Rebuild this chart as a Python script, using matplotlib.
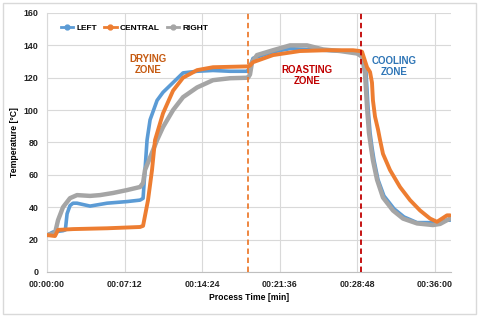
import matplotlib.pyplot as plt
from matplotlib.lines import Line2D
from matplotlib.ticker import FuncFormatter
from matplotlib.patches import Rectangle

plt.rcParams['font.family'] = ['Liberation Sans', 'DejaVu Sans']

# time in minutes, temperature in degC
left_t = [0, 0.56, 1.48, 1.7, 1.86, 2.13, 2.41, 2.78, 3.99, 5.57, 7.42, 8.63, 8.91, 9.09, 9.28,
          9.56, 10.21, 10.76, 11.69, 12.62, 13.92, 15.4, 16.98, 18.56, 18.65, 18.83, 19.11,
          20.97, 22.55, 25.61, 28.76, 29.23, 29.6, 29.78, 29.97, 30.15, 30.34, 30.71, 31.26,
          32.2, 33.12, 34.33, 35.81, 36.47, 37.11, 37.39]
left_T = [22.8, 24.7, 25.5, 26, 36, 41, 42.5, 42.5, 40.7, 42.5, 43.5, 44.4, 45.5, 63, 81.5,
          94, 106, 111, 117, 123, 124, 124.5, 124, 124, 124.5, 127, 132,
          136, 138, 137, 136, 134, 123, 102, 86, 77, 69, 57, 47,
          39, 34, 30.5, 30.5, 30.8, 32, 32]

central_t = [0, 0.74, 1.02, 2.41, 5.57, 8.63, 8.91, 9.37, 9.74, 10.02, 10.76, 11.69, 12.62,
             13.92, 15.4, 18.56, 18.65, 18.83, 19.11, 20.97, 23.47, 25.98, 28.39, 29.04, 29.23,
             29.69, 29.97, 30.15, 30.24, 30.43, 30.71, 30.9, 31.17, 31.82, 32.75, 33.68,
             34.61, 35.54, 36.18, 36.65, 37.11, 37.39]
central_T = [22.8, 22.2, 26, 26.5, 27, 27.8, 28.5, 44.4, 63, 81.5, 98, 112, 120,
             124.7, 126.5, 127, 127, 127.5, 129.6, 134, 136.5, 137, 137, 136.5, 136,
             126.5, 123.5, 117, 106, 96, 88, 81.5, 73, 63, 52.5, 44.4,
             38, 33, 31, 33, 35, 35]

right_t = [0, 0.74, 1.02, 1.48, 2.13, 2.78, 3.99, 4.92, 6.12, 7.42, 8.63, 8.91, 9.09, 10.21,
           10.76, 11.69, 12.62, 13.92, 15.4, 16.98, 18.56, 18.65, 18.83, 19.02, 19.48, 20.97,
           22.55, 24.12, 25.61, 27.18, 28.76, 29.23, 29.5, 29.69, 29.87, 30.06, 30.24, 30.62,
           31.17, 32.1, 33.03, 34.33, 35.81, 36.47, 37.11, 37.39]
right_T = [22.8, 24, 32, 40, 45.6, 47.5, 47, 47.5, 48.8, 50.6, 52.5, 55, 63, 81.5,
           89.5, 100, 108, 114, 118.5, 119.7, 120, 120, 122, 129.6, 134, 137,
           140, 140, 137.5, 136.5, 135, 133, 123, 102, 86, 77, 69, 57,
           46, 38, 33, 30, 29, 29.7, 32, 33]

zone_lines = [18.6, 29.1]
xticks = [0, 7.2, 14.4, 21.6, 28.8, 36.0]

blue = '#5B9BD5'
orange = '#ED7D31'
gray = '#A5A5A5'

fig = plt.figure(figsize=(4.8, 3.17), dpi=100)
ax = fig.add_axes([0.098, 0.142, 0.842, 0.817])

ax.plot(right_t, right_T, color=gray, lw=3.2, solid_capstyle='round', zorder=3)
ax.plot(central_t, central_T, color=orange, lw=2.8, solid_capstyle='round', zorder=4)
ax.plot(left_t, left_T, color=blue, lw=2.6, solid_capstyle='round', zorder=2)

ax.axvline(zone_lines[0], color=orange, ls=(0, (3, 2)), lw=1.3, zorder=5)
ax.axvline(zone_lines[1], color='#C00000', ls=(0, (3, 2)), lw=1.3, zorder=5)

ax.set_xlim(0, 37.5)
ax.set_ylim(0, 160)
ax.set_xticks(xticks)
ax.set_yticks(range(0, 161, 20))


def hms(v, pos):
    s = int(round(v * 60))
    return f"{s // 3600:02d}:{(s % 3600) // 60:02d}:{s % 60:02d}"


ax.xaxis.set_major_formatter(FuncFormatter(hms))
ax.grid(color='#D9D9D9', lw=0.8)
ax.set_axisbelow(True)
for s in ['top', 'right']:
    ax.spines[s].set_visible(False)
ax.spines['left'].set_color('#D9D9D9')
ax.spines['bottom'].set_color('#BFBFBF')
ax.tick_params(length=0, labelsize=6.4, pad=6, colors='#222222')
for lab in ax.get_xticklabels() + ax.get_yticklabels():
    lab.set_fontweight('bold')

ax.set_xlabel('Process Time [min]', fontsize=6.2, fontweight='bold')
ax.set_ylabel('Temperature [°C]', fontsize=6.2, fontweight='bold')
ax.xaxis.set_label_coords(0.5, -0.083)
ax.yaxis.set_label_coords(-0.07, 0.5)

ax.text(9.4, 128.4, 'DRYING\nZONE', color='#C55A11', fontsize=7, fontweight='bold',
        ha='center', va='center', linespacing=1.15)
ax.text(24.1, 121.6, 'ROASTING\nZONE', color='#C00000', fontsize=7, fontweight='bold',
        ha='center', va='center', linespacing=1.15)
ax.text(32.2, 127, 'COOLING\nZONE', color='#2E75B6', fontsize=7, fontweight='bold',
        ha='center', va='center', linespacing=1.15)

handles = [Line2D([], [], color=c, lw=2, marker='o', markersize=3.5) for c in (blue, orange, gray)]
ax.legend(handles, ['LEFT', 'CENTRAL', 'RIGHT'], loc='upper left', bbox_to_anchor=(0.015, 0.985),
          ncol=3, frameon=False, handlelength=1.5, handletextpad=0.35, columnspacing=0.9,
          prop={'size': 6.0, 'weight': 'bold'})

fig.patches.append(Rectangle((0.006, 0.01), 0.986, 0.98, transform=fig.transFigure,
                             fill=False, edgecolor='#D9D9D9', lw=1))

fig.savefig('out.png', dpi=100)
